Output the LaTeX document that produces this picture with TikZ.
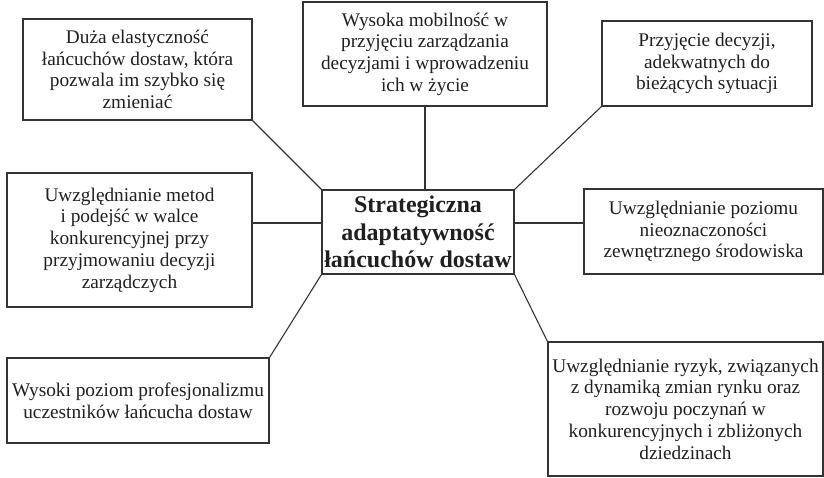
\documentclass[tikz,border=0pt]{standalone}
\usepackage{fontspec}
\setmainfont{Liberation Serif}
\begin{document}
\begin{tikzpicture}[x=1pt,y=-1pt,
  box/.style={draw=black!80, line width=1.1pt, rectangle, align=center, inner sep=1pt,
    font=\fontsize{19.3}{21.7}\selectfont, text=black!88},
  hub/.style={box, font=\bfseries\fontsize{24}{27.5}\selectfont},
  link/.style={draw=black!80, line width=1.1pt}]
\useasboundingbox (0,0) rectangle (824,477);
\node[box, minimum width=229pt, minimum height=101pt] (B1) at (137.5,69.5)
  {Duża elastyczność\\łańcuchów dostaw, która\\pozwala im szybko się\\zmieniać};
\node[box, minimum width=244pt, minimum height=104pt] (B2) at (425,54)
  {Wysoka mobilność w\\przyjęciu zarządzania\\decyzjami i wprowadzeniu\\ich w życie};
\node[box, minimum width=210pt, minimum height=85pt] (B3) at (707,63.5)
  {Przyjęcie decyzji,\\adekwatnych do\\bieżących sytuacji};
\node[box, minimum width=245pt, minimum height=134pt] (B4) at (129.5,240)
  {Uwzględnianie metod\\i podejść w walce\\konkurencyjnej przy\\przyjmowaniu decyzji\\zarządczych};
\node[hub, minimum width=192pt, minimum height=84pt] (C) at (418,232)
  {Strategiczna\\adaptatywność\\łańcuchów dostaw};
\node[box, minimum width=239pt, minimum height=85pt] (B5) at (703.5,231.5)
  {Uwzględnianie poziomu\\nieoznaczoności\\zewnętrznego środowiska};
\node[box, minimum width=262pt, minimum height=85pt] (B6) at (138,400.5)
  {Wysoki poziom profesjonalizmu\\uczestników łańcucha dostaw};
\node[box, minimum width=275pt, minimum height=134pt] (B7) at (685.5,409)
  {Uwzględnianie ryzyk, związanych\\z dynamiką zmian rynku oraz\\rozwoju poczynań w\\konkurencyjnych i zbliżonych\\dziedzinach};
\coordinate (hl) at (0,223);
\draw[link] (B1.south east) -- (C.north west);
\draw[link] (B2.south) -- (B2.south |- C.north);
\draw[link] (B3.south west) -- (C.north east);
\draw[link] (B4.east |- hl) -- (C.west |- hl);
\draw[link] (C.east |- hl) -- (B5.west |- hl);
\draw[link] (B6.north east) -- (C.south west);
\draw[link] (B7.north west) -- (C.south east);
\end{tikzpicture}
\end{document}
